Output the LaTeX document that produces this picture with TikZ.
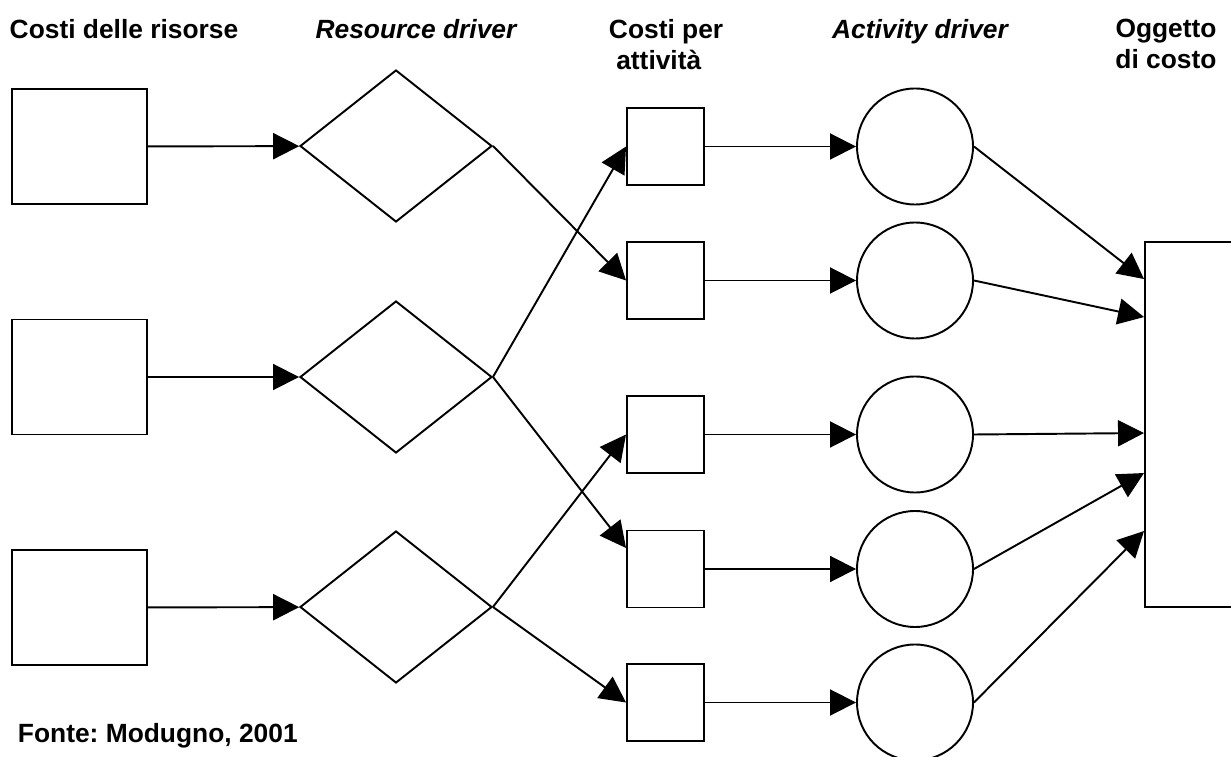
\documentclass[tikz,border=0pt]{standalone}
\usepackage{fontspec}
\setmainfont{Liberation Sans}
\frenchspacing
\usetikzlibrary{shapes.geometric,arrows.meta}
\tikzset{>={Triangle[length=5.2mm,width=5.2mm]}}
\tikzstyle{every header}=[font=\bfseries\fontsize{15}{18}\selectfont,inner sep=0pt]
\tikzstyle{resource}=[draw,rectangle,fill=white,inner sep=0pt,minimum width=2.7cm,minimum height=2.3cm]
\tikzstyle{resdriver}=[draw,diamond,inner sep=0pt,minimum width=3.84cm,minimum height=3.04cm]
\tikzstyle{activity}=[draw,rectangle,inner sep=0pt,minimum size=1.54cm]
\tikzstyle{actdriver}=[draw,circle,inner sep=0pt,minimum size=2.32cm]

\begin{document}
\begin{tikzpicture}[line width=1.1pt]
\useasboundingbox (0,0) rectangle (24.62,15.12);
\clip (0,0) rectangle (24.62,15.12);
% titoli
\node (hres) at (2.48,14.76) [every header,anchor=north] {Costi delle risorse};
\node (hrd) at (8.32,14.76) [every header,anchor=north] {\itshape Resource driver};
\node (hact) at (12.16,14.76) [every header,anchor=north west,align=left] {Costi per\\\ attività};
\node (had) at (18.4,14.76) [every header,anchor=north] {\itshape Activity driver};
\node (hobj) at (23.32,14.76) [every header,anchor=north,align=center] {Oggetto\\di costo};
\node (src) at (0.34,0.68) [every header,anchor=north west] {Fonte: Modugno, 2001};
% risorse e resource driver
\node (res1) at (1.59,12.19) [resource] {};
\node (res2) at (1.59,7.58) [resource] {};
\node (res3) at (1.59,2.97) [resource] {};
\node (rd1) at (7.92,12.2) [resdriver] {};
\node (rd2) at (7.92,7.58) [resdriver] {};
\node (rd3) at (7.92,2.98) [resdriver] {};
% attivita e activity driver
\node (act1) at (13.31,12.19) [activity] {};
\node (act2) at (13.31,9.51) [activity] {};
\node (act3) at (13.31,6.43) [activity] {};
\node (act4) at (13.31,3.74) [activity] {};
\node (act5) at (13.31,1.07) [activity] {};
\node (ad1) at (18.3,12.19) [actdriver] {};
\node (ad2) at (18.3,9.51) [actdriver] {};
\node (ad3) at (18.3,6.43) [actdriver] {};
\node (ad4) at (18.3,3.74) [actdriver] {};
\node (ad5) at (18.3,1.07) [actdriver] {};
% oggetto di costo
\node (obj) at (24.0,6.63) [draw,rectangle,inner sep=0pt,minimum width=2.2cm,minimum height=7.3cm] {};
\draw [->] (res1) -- (rd1);
\draw [->] (res2) -- (rd2);
\draw [->] (res3) -- (rd3);
\draw [->] (rd1.east) -- (act2.west);
\draw [->] (rd2.east) -- (act1.west);
\draw [->] (rd2.east) -- ([yshift=0.42cm]act4.west);
\draw [->] (rd3.east) -- (act3.west);
\draw [->] (rd3.east) -- (act5.west);
\draw [->] (act1) -- (ad1);
\draw [->] (act2) -- (ad2);
\draw [->] (act3) -- (ad3);
\draw [->] (act4) -- (ad4);
\draw [->] (act5) -- (ad5);
\draw [->] (ad1.east) -- ([yshift=-0.76cm]obj.north west);
\draw [->] (ad2.east) -- ([yshift=-1.52cm]obj.north west);
\draw [->] (ad3.east) -- ([yshift=-3.84cm]obj.north west);
\draw [->] (ad4.east) -- ([yshift=-4.64cm]obj.north west);
\draw [->] (ad5.east) -- ([yshift=-5.80cm]obj.north west);
\end{tikzpicture}
\end{document}
